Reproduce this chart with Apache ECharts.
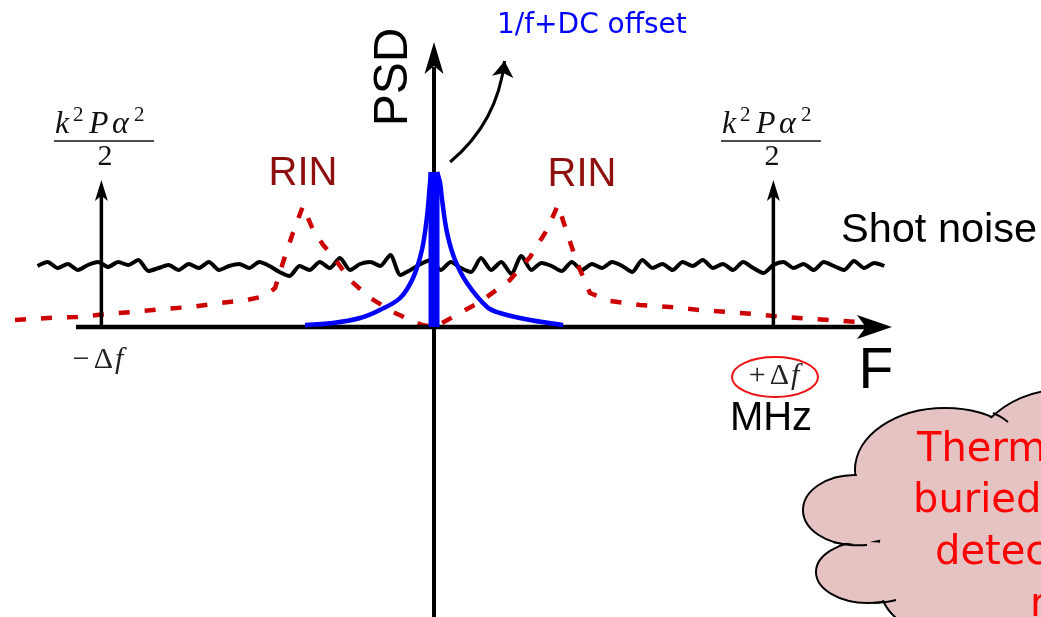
<!DOCTYPE html>
<html>
<head>
<meta charset="utf-8">
<script src="https://cdn.jsdelivr.net/npm/echarts@6/dist/echarts.min.js"></script>
<style>
  html, body { margin: 0; padding: 0; background: #fff; }
  #chart { width: 1041px; height: 617px; }
</style>
</head>
<body>
<div id="chart"></div>
<script>
// frequency in units of the modulation frequency (Δf), PSD in arbitrary units

// shot noise trace
const shotFreq = [-1.18,-1.15,-1.12,-1.09,-1.06,-1.03,-1.00,-0.97,-0.94,-0.91,-0.88,-0.85,-0.82,-0.79,-0.76,-0.73,-0.70,-0.67,-0.64,-0.61,
  -0.58,-0.55,-0.52,-0.49,-0.46,-0.43,-0.40,-0.37,-0.34,-0.31,-0.28,-0.25,-0.22,-0.19,-0.16,-0.13,-0.10,-0.07,-0.04,-0.01,
  0.02,0.05,0.08,0.11,0.14,0.17,0.20,0.23,0.26,0.29,0.32,0.35,0.38,0.41,0.44,0.47,0.50,0.53,0.56,0.59,
  0.62,0.65,0.68,0.71,0.74,0.77,0.80,0.83,0.86,0.89,0.92,0.95,0.98,1.01,1.04,1.07,1.10,1.13,1.16,1.19,
  1.22,1.25,1.28,1.31,1.34]
const shotPsd = [0.61,0.65,0.59,0.63,0.57,0.62,0.65,0.60,0.65,0.62,0.67,0.56,0.59,0.62,0.57,0.63,0.59,0.65,0.57,0.61,
  0.63,0.59,0.65,0.61,0.55,0.51,0.61,0.57,0.65,0.59,0.69,0.57,0.63,0.65,0.61,0.72,0.52,0.57,0.63,0.67,
  0.57,0.65,0.59,0.55,0.69,0.57,0.65,0.53,0.71,0.57,0.64,0.61,0.56,0.65,0.57,0.63,0.59,0.65,0.61,0.55,
  0.67,0.59,0.63,0.57,0.65,0.61,0.67,0.59,0.63,0.57,0.65,0.59,0.54,0.62,0.65,0.59,0.63,0.57,0.65,0.61,
  0.57,0.66,0.59,0.64,0.61]

// RIN (dashed), two peaks either side of DC
const rinFreq = [-1.247,-1.149,-1.063,-0.973,-0.896,-0.807,-0.726,-0.637,-0.557,-0.503,-0.473,-0.449,-0.420,-0.390,
  -0.360,-0.330,-0.301,-0.250,-0.190,-0.122,-0.071,-0.036,0,
  0.024,0.077,0.137,0.226,0.286,0.336,0.369,
  0.396,0.426,0.464,0.524,0.613,0.702,0.792,0.872,0.949,1.039,1.128,1.214,1.259]
const rinPsd = [0.07,0.09,0.10,0.13,0.15,0.18,0.20,0.24,0.27,0.31,0.39,0.65,0.94,1.21,
  0.97,0.82,0.71,0.47,0.29,0.15,0.07,0.02,0,
  0.04,0.14,0.25,0.47,0.70,0.97,1.22,
  0.94,0.64,0.34,0.26,0.22,0.20,0.17,0.15,0.13,0.10,0.08,0.06,0.05]

// 1/f noise
const flickerLeftFreq = [-0.384,-0.301,-0.220,-0.161,-0.101,-0.0625,-0.036,-0.021,-0.012,-0.009]
const flickerLeftPsd = [0.02,0.04,0.09,0.17,0.29,0.49,0.77,1.10,1.44,1.55]
const flickerRightFreq = [0.009,0.018,0.024,0.039,0.0625,0.098,0.158,0.196,0.286,0.384]
const flickerRightPsd = [1.55,1.44,1.27,0.94,0.67,0.44,0.20,0.14,0.07,0.02]

const dcOffset = 1.55
const carrierFreq = [-0.99, 1.01]
const carrierPsd = 1.47

const xMin = -1.2917, xMax = 1.8065
const yMin = -2.9, yMax = 3.27

const UP_HEAD = 'path://M6,0L12,20L6,15L0,20Z'
const RIGHT_HEAD = 'path://M20,6L0,12L5,6L0,0Z'

const pair = (xs, ys) => xs.map((x, i) => [x, ys[i]])

const seg = (data, color, width, z, extra, smooth) => ({
  type: 'line',
  data,
  symbol: 'none',
  smooth: smooth || false,
  silent: true,
  z,
  lineStyle: { color, width, cap: 'butt', join: 'round', ...extra },
})

const head = (data, symbol, size, offset) => ({
  type: 'scatter',
  data,
  symbol,
  symbolSize: size,
  symbolOffset: offset,
  silent: true,
  z: 6,
  itemStyle: { color: '#000', opacity: 1 },
})

const series = [
  seg(pair(shotFreq, shotPsd), '#000', 4, 2, {}, 0.25),
  seg(pair(rinFreq, rinPsd), '#cc0000', 4.5, 3, { type: [11, 15] }),
  // axes
  seg([[-1.0655, 0], [1.30, 0]], '#000', 4.5, 4),
  seg([[0, yMin], [0, 2.6]], '#000', 4, 4),
  ...carrierFreq.map((f) => seg([[f, 0], [f, carrierPsd - 0.12]], '#000', 3.5, 4)),
  // 1/f + DC
  seg(pair(flickerLeftFreq, flickerLeftPsd), '#0000ff', 4.5, 5, {}, 0.35),
  seg(pair(flickerRightFreq, flickerRightPsd), '#0000ff', 4.5, 5, {}, 0.35),
  seg([[0, 0], [0, dcOffset]], '#0000ff', 11, 5),
  head([[1.363, 0]], RIGHT_HEAD, [35, 24], [-17.5, 0]),
  head([[0, 2.85]], UP_HEAD, [19, 32], [0, 16]),
  head(carrierFreq.map((f) => [f, carrierPsd]), UP_HEAD, [13, 21], [0, 10.5]),
  {
    type: 'lines',
    coordinateSystem: 'cartesian2d',
    silent: true,
    z: 6,
    symbol: ['none', 'arrow'],
    symbolSize: 16,
    lineStyle: { color: '#000', width: 3, curveness: -0.2, opacity: 1 },
    data: [{ coords: [[0.048, 1.65], [0.21, 2.66]] }],
  },
]

const sans = '"Liberation Sans", Arial, sans-serif'
const serif = '"Liberation Serif", "Times New Roman", serif'
const verdana = '"DejaVu Sans", Verdana, sans-serif'

const txt = (x, y, text, size, fill, opts = {}) => ({
  type: 'text',
  x,
  y,
  z: 10,
  rotation: opts.rotation || 0,
  style: {
    text,
    font: (opts.style || '') + ' ' + size + 'px ' + (opts.family || sans),
    fill,
    align: opts.align || 'center',
    verticalAlign: opts.va || 'middle',
    rich: opts.rich,
  },
})

// k^2 P alpha^2 / 2 above each carrier
const mathInk = '#111'
const fraction = (dx) => [
  txt(55 + dx, 141, 'k', 32, mathInk, { family: serif, style: 'italic', align: 'left', va: 'bottom' }),
  txt(73 + dx, 125.5, '2', 21, mathInk, { family: serif, align: 'left', va: 'bottom' }),
  txt(89 + dx, 141, 'P', 32, mathInk, { family: serif, style: 'italic', align: 'left', va: 'bottom' }),
  txt(112 + dx, 141, 'α', 32, mathInk, { family: serif, style: 'italic', align: 'left', va: 'bottom' }),
  txt(134 + dx, 125.5, '2', 21, mathInk, { family: serif, align: 'left', va: 'bottom' }),
  { type: 'line', z: 10, shape: { x1: 54 + dx, y1: 141, x2: 154 + dx, y2: 141 }, style: { stroke: mathInk, lineWidth: 1.5 } },
  txt(105 + dx, 157, '2', 30, mathInk, { family: serif }),
]

const deltaRich = {
  a: { font: '30px ' + serif, fill: '#222', padding: [0, 4, 0, 0] },
  c: { font: '30px ' + serif, fill: '#222' },
  b: { font: 'italic 30px ' + serif, fill: '#222', padding: [0, 0, 0, 2] },
}

// cloud
const cloudFill = '#e6c3c3'
const bumps = [
  { cx: 945, cy: 470, rx: 90, ry: 62 },
  { cx: 1060, cy: 490, rx: 100, ry: 100 },
  { cx: 855, cy: 510, rx: 52, ry: 35 },
  { cx: 868, cy: 572, rx: 52, ry: 31 },
  { cx: 945, cy: 585, rx: 65, ry: 50 },
]
const stub = (points) => ({ type: 'polyline', z: 8, shape: { points, smooth: 0.4 }, style: { stroke: '#000', lineWidth: 2, fill: null } })
const cloud = [
  ...bumps.map((b) => ({ type: 'ellipse', z: 8, shape: b, style: { fill: cloudFill, stroke: '#000', lineWidth: 2 } })),
  ...bumps.map((b) => ({ type: 'ellipse', z: 8, shape: { cx: b.cx, cy: b.cy, rx: b.rx - 1.5, ry: b.ry - 1.5 }, style: { fill: cloudFill } })),
  { type: 'ellipse', z: 8, shape: { cx: 1000, cy: 545, rx: 120, ry: 100 }, style: { fill: cloudFill } },
  stub([[993, 413], [1001, 417], [1008, 422]]),
  stub([[833, 542], [850, 545], [867, 545]]),
  stub([[873, 603], [886, 602], [896, 600]]),
  txt(917, 471, 'Thermal noise is', 40, '#ff0000', { family: verdana, align: 'left', va: 'bottom' }),
  txt(913, 522, 'buried in the', 40, '#ff0000', { family: verdana, align: 'left', va: 'bottom' }),
  txt(935, 574, 'detector noise', 40, '#ff0000', { family: verdana, align: 'left', va: 'bottom' }),
  txt(1030, 626, 'noise', 40, '#ff0000', { family: verdana, align: 'left', va: 'bottom' }),
]

const graphic = [
  txt(394, 77, 'PSD', 48, '#000', { rotation: Math.PI / 2 }),
  txt(497, 26, '1/f+DC offset', 28, '#0000ff', { family: verdana, align: 'left' }),
  txt(303, 174, 'RIN', 40, '#8f0f0f'),
  txt(582, 175, 'RIN', 40, '#8f0f0f'),
  txt(841, 231, 'Shot noise', 41.5, '#000', { align: 'left' }),
  txt(876, 372, 'F', 57, '#000'),
  txt(771, 419, 'MHz', 40, '#000'),
  txt(98, 360, '{a|−}{c|Δ}{b|f}', 30, '#222', { family: serif, rich: deltaRich }),
  txt(774, 376, '{a|+}{c|Δ}{b|f}', 30, '#222', { family: serif, rich: deltaRich }),
  { type: 'ellipse', z: 10, shape: { cx: 775, cy: 377, rx: 43, ry: 20 }, style: { fill: null, stroke: '#ee1111', lineWidth: 2 } },
  ...fraction(0),
  ...fraction(667),
  ...cloud,
]

const chart = echarts.init(document.getElementById('chart'))
chart.setOption({
  animation: false,
  backgroundColor: '#fff',
  grid: { left: 0, right: 0, top: 0, bottom: 0 },
  xAxis: { type: 'value', min: xMin, max: xMax, show: false },
  yAxis: { type: 'value', min: yMin, max: yMax, show: false },
  series,
  graphic,
})
</script>
</body>
</html>
